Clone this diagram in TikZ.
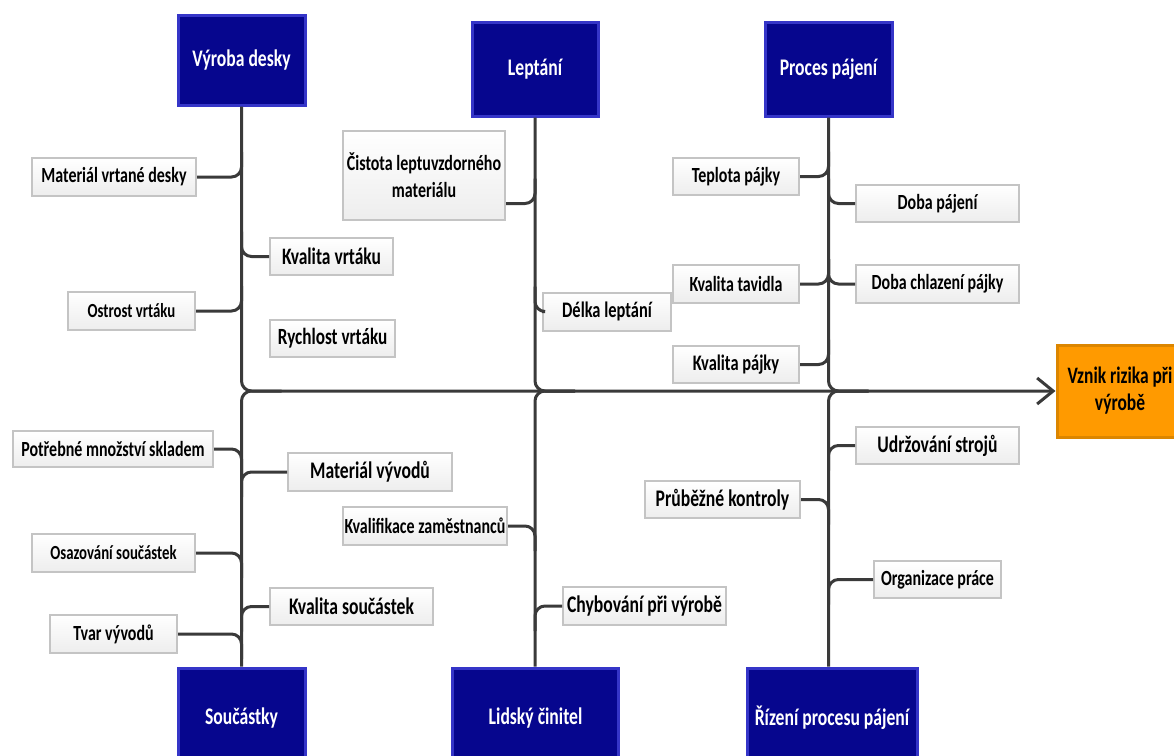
\documentclass[tikz,border=0pt]{standalone}
\usepackage{fontspec}
\setmainfont{Carlito}[FakeStretch=0.74]
\usetikzlibrary{calc,arrows.meta}

\definecolor{linec}{HTML}{3A3A3A}
\definecolor{navyfill}{HTML}{06068E}
\definecolor{navyedge}{HTML}{3535C8}
\definecolor{subedge}{HTML}{C4C4C4}
\definecolor{riskfill}{HTML}{FF9A00}
\definecolor{riskedge}{HTML}{DC8600}

\newcommand\lblfont[1]{\bfseries\fontsize{#1}{27}\selectfont}

\tikzset{
  conn/.style={draw=linec, line width=3pt, rounded corners=10pt},
  sz/.style n args={2}{minimum width=#1, minimum height=#2},
  fs/.style={font=\lblfont{#1}},
  cause/.style={rectangle, draw=navyedge, line width=3pt, fill=navyfill,
    text=white, inner sep=0pt, align=center, fs=23.8},
  sub/.style={rectangle, draw=subedge, line width=2pt, top color=white,
    bottom color=black!7, text=black, inner sep=0pt, align=center, fs=21.6},
  risk/.style={rectangle, draw=riskedge, line width=3pt, fill=riskfill,
    text=black, inner sep=0pt, align=center, fs=23.6},
}

\begin{document}
\begin{tikzpicture}[x=1pt,y=-1pt]
\useasboundingbox (0,0) rectangle (1174,755);
\clip (0,0) rectangle (1174,755);

% main categories
\node[cause, sz={127}{90}]  (vyroba)    at (241.5,60)  {Výroba desky};
\node[cause, sz={126}{94}]  (leptani)   at (535,69)    {Leptání};
\node[cause, sz={127}{94}]  (proces)    at (828.5,69)  {Proces pájení};
\node[cause, sz={127}{100}] (soucastky) at (241.5,718) {Součástky};
\node[cause, sz={166}{100}] (lidsky)    at (535.5,718) {Lidský činitel};
\node[cause, sz={170}{100}] (rizeni)    at (832,718)   {Řízení procesu pájení};

% effect
\node[risk, sz={126}{92}] (risk) at (1120,391) {Vznik rizika při\\výrobě};
\coordinate (spine) at (0,391);

% spine and bones
\draw[conn, -{Straight Barb[length=16pt,width=26pt]}] (vyroba.south) |- (risk.west);
\draw[conn] (leptani.south) |- ($(leptani.south |- spine)+(40,0)$);
\draw[conn] (proces.south)  |- ($(proces.south |- spine)+(40,0)$);
\draw[conn] (soucastky.north) |- ($(soucastky.north |- spine)+(40,0)$);
\draw[conn] (lidsky.north -| leptani.south) |- ($(leptani.south |- spine)+(40,0)$);
\draw[conn] (rizeni.north -| proces.south)  |- ($(proces.south |- spine)+(40,0)$);

% Výroba desky
\node[sub, sz={164}{38}]          (mvd) at (114,177)     {Materiál vrtané desky};
\node[sub, sz={123}{37}, fs=23.6] (kv)  at (331.5,256.5) {Kvalita vrtáku};
\node[sub, sz={127}{38}, fs=20]   (ov)  at (131.5,311)   {Ostrost vrtáku};
\node[sub, sz={125}{37}, fs=23.2] (rv)  at (332.5,338.5) {Rychlost vrtáku};
\draw[conn] (mvd.east) -| ($(mvd.east -| vyroba.south)+(0,-25)$);
\draw[conn] ($(kv.west -| vyroba.south)+(0,-25)$) |- (kv.west);
\draw[conn] (ov.east) -| ($(ov.east -| vyroba.south)+(0,-25)$);

% Leptání
\node[sub, sz={162}{89}] (cl) at (424,175.5) {Čistota leptuvzdorného\\materiálu};
\node[sub, sz={128}{38}, fs=22.2] (dl) at (607,311.5) {Délka leptání};
\draw[conn] ($(cl.east)+(0,28)$) -| ($(cl.east -| leptani.south)+(0,3)$);
\draw[conn] ($(dl.west -| leptani.south)+(0,-25)$) |- (dl.west);

% Proces pájení
\node[sub, sz={126}{37}] (tp)  at (736,176.5)   {Teplota pájky};
\node[sub, sz={163}{37}] (dp)  at (937.5,203.5) {Doba pájení};
\node[sub, sz={126}{38}] (kt)  at (736,284)     {Kvalita tavidla};
\node[sub, sz={163}{38}] (dch) at (937.5,284)   {Doba chlazení pájky};
\node[sub, sz={126}{37}, fs=22.2] (kp) at (736,364.5) {Kvalita pájky};
\draw[conn] (tp.east) -| ($(tp.east -| proces.south)+(0,-25)$);
\draw[conn] ($(dp.west -| proces.south)+(0,-25)$) |- (dp.west);
\draw[conn] (kt.east) -| ($(kt.east -| proces.south)+(0,-25)$);
\draw[conn] ($(dch.west -| proces.south)+(0,-25)$) |- (dch.west);
\draw[conn] (kp.east) -| ($(kp.east -| proces.south)+(0,-25)$);

% Součástky
\node[sub, sz={200}{36}] (pms) at (113,449) {Potřebné množství skladem};
\node[sub, sz={164}{38}, fs=23.8] (mv) at (370,472) {Materiál vývodů};
\node[sub, sz={163}{38}, fs=20]   (os) at (113.5,553) {Osazování součástek};
\node[sub, sz={163}{37}, fs=23.8] (ks) at (351.5,606.5) {Kvalita součástek};
\node[sub, sz={127}{38}] (tv) at (113.5,634) {Tvar vývodů};
\draw[conn] (pms.east) -| ($(pms.east -| soucastky.north)+(0,25)$);
\draw[conn] ($(mv.west -| soucastky.north)+(0,25)$) |- (mv.west);
\draw[conn] (os.east) -| ($(os.east -| soucastky.north)+(0,25)$);
\draw[conn] ($(ks.west -| soucastky.north)+(0,25)$) |- (ks.west);
\draw[conn] (tv.east) -| ($(tv.east -| soucastky.north)+(0,25)$);

% Lidský činitel
\node[sub, sz={164}{38}] (kz) at (425,526) {Kvalifikace zaměstnanců};
\node[sub, sz={163}{38}, fs=23.8] (chv) at (644.5,606) {Chybování při výrobě};
\draw[conn] (kz.east) -| ($(kz.east -| leptani.south)+(0,25)$);
\draw[conn] ($(chv.west -| leptani.south)+(0,25)$) |- (chv.west);

% Řízení procesu pájení
\node[sub, sz={163}{37}, fs=23.8] (us) at (937.5,445.5) {Udržování strojů};
\node[sub, sz={155}{37}, fs=23.8] (pk) at (722.5,499.5) {Průběžné kontroly};
\node[sub, sz={127}{37}] (op) at (937.5,579.5) {Organizace práce};
\draw[conn] ($(us.west -| proces.south)+(0,25)$) |- (us.west);
\draw[conn] (pk.east) -| ($(pk.east -| proces.south)+(0,25)$);
\draw[conn] ($(op.west -| proces.south)+(0,25)$) |- (op.west);
\end{tikzpicture}
\end{document}
